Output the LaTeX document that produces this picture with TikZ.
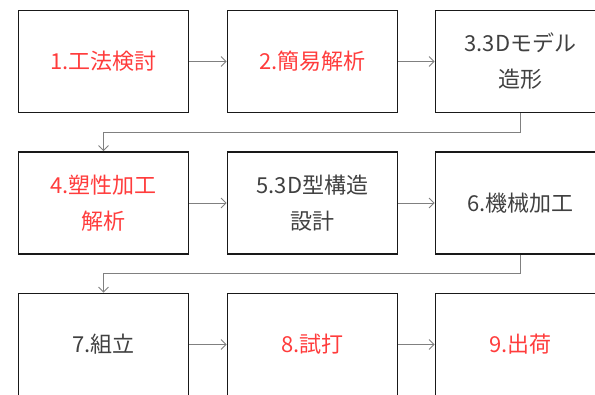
\documentclass[tikz,border=0pt]{standalone}
\usepackage{fontspec}
\newfontfamily\jp{Noto Sans CJK JP}
\usetikzlibrary{arrows.meta}
\definecolor{redtxt}{RGB}{255,60,60}
\definecolor{graytxt}{RGB}{64,64,64}
\definecolor{conn}{RGB}{128,128,128}
\begin{document}
\begin{tikzpicture}[x=1pt,y=1pt,
  stepbox/.style={draw=black!90,line width=1.6pt,minimum width=170pt,minimum height=102pt,inner sep=0pt,align=center,font=\jp\fontsize{22}{36}\selectfont},
  redbox/.style={stepbox,text=redtxt},
  graybox/.style={stepbox,text=graytxt},
  conn/.style={draw=conn,line width=0.9pt,-{Straight Barb[length=5pt,width=10pt]}}]
\useasboundingbox (0,0) rectangle (595,394);
\node[redbox]  (n1) at (103.5,332.5) {1.工法検討};
\node[redbox]  (n2) at (312.5,332.5) {2.簡易解析};
\node[graybox] (n3) at (520.5,332.5) {3.3Dモデル\\造形};
\node[redbox]  (n4) at (103.5,191) {4.塑性加工\\解析};
\node[graybox] (n5) at (312.5,191) {5.3D型構造\\設計};
\node[graybox] (n6) at (520.5,191) {6.機械加工};
\node[graybox] (n7) at (103.5,49.5) {7.組立};
\node[redbox]  (n8) at (312.5,49.5) {8.試打};
\node[redbox]  (n9) at (520.5,49.5) {9.出荷};
\coordinate (c1) at (520.5,262);
\coordinate (c2) at (103.5,262);
\coordinate (c3) at (520.5,121);
\coordinate (c4) at (103.5,121);
\draw[conn] (n1) -- (n2);
\draw[conn] (n2) -- (n3);
\draw[conn] (n3.south) -- (c1) -- (c2) -- (n4.north);
\draw[conn] (n4) -- (n5);
\draw[conn] (n5) -- (n6);
\draw[conn] (n6.south) -- (c3) -- (c4) -- (n7.north);
\draw[conn] (n7) -- (n8);
\draw[conn] (n8) -- (n9);
\end{tikzpicture}
\end{document}
